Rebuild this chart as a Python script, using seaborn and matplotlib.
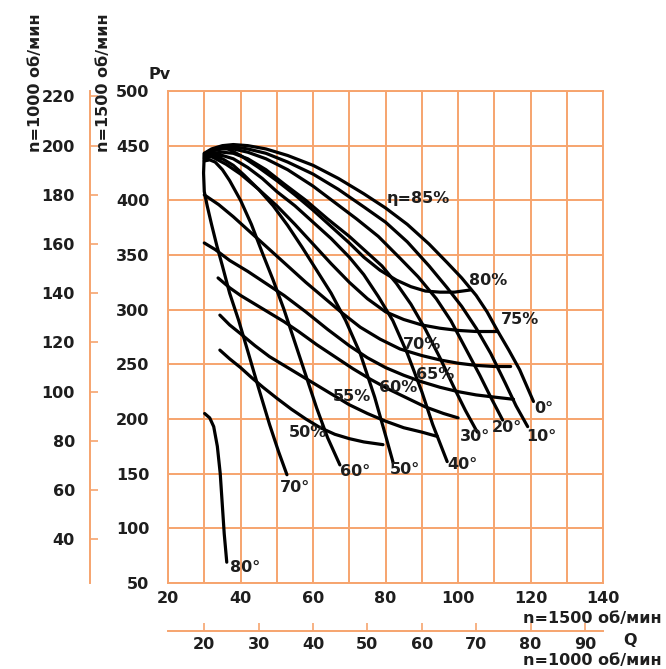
import pandas as pd
import matplotlib
matplotlib.use("Agg")
import matplotlib.pyplot as plt
import seaborn as sns

# Характеристика вентилятора: кривые по углу установки лопаток и кривые КПД
sns.set_theme(style="white")
plt.rcParams['font.family'] = ['DejaVu Sans']
plt.rcParams['font.weight'] = 'bold'

ORANGE = '#F6A46E'
INK = '#1e1e1e'
FS = 11.5

# кривые по углу (n=1500 об/мин): Q, Pv
angle_labels = ['0°', '10°', '20°', '30°', '40°', '50°', '60°', '70°', '80°']
angle_q = [
    [30, 32, 35, 38, 42, 47, 53, 60, 67, 74, 80, 86, 92, 97, 101, 105, 108, 111, 114, 117, 120.8],
    [30, 32, 35, 38, 42, 47, 53, 60, 67, 74, 80, 86, 92, 97, 101, 105, 109, 113, 116, 119.2],
    [30, 32, 35, 38, 42, 47, 53, 60, 66, 72, 78, 84, 89, 94, 98, 102, 106, 109, 112.3],
    [30, 32, 35, 38, 42, 47, 52, 58, 64, 70, 75, 79, 83, 87, 91, 95, 99, 102, 105.3],
    [30, 32, 35, 38, 42, 46, 50, 55, 60, 65, 70, 74, 78, 82, 86, 90, 93, 97],
    [30, 32, 35, 38, 41, 45, 49, 53, 57, 61, 65, 69, 73, 77, 80, 82.1],
    [30, 31.5, 33, 35, 37, 40, 43, 46, 49, 52, 55, 58, 61, 64, 67.4],
    [30, 29.8, 30, 30.8, 32, 33.5, 35, 37, 39.5, 42, 45, 48, 50.5, 52.8],
    [30.1, 31.5, 32.6, 33.6, 34.4, 35.0, 35.5, 36.2],
]
angle_pv = [
    [443, 447, 450, 451, 450, 447, 441, 432, 420, 406, 393, 378, 360, 343, 329, 313, 298, 280, 263, 245, 216],
    [442, 446, 448, 449, 447, 443, 435, 424, 410, 394, 380, 362, 340, 320, 303, 283, 260, 233, 212, 193],
    [441, 445, 447, 447, 444, 438, 428, 413, 398, 383, 367, 347, 330, 310, 290, 265, 240, 220, 199],
    [440, 443, 444, 443, 438, 428, 415, 400, 383, 367, 352, 340, 324, 305, 282, 256, 228, 208, 188],
    [439, 441, 441, 438, 430, 420, 408, 395, 380, 365, 348, 332, 312, 290, 260, 225, 195, 161],
    [438, 440, 438, 432, 423, 410, 395, 377, 357, 336, 315, 290, 260, 220, 185, 160],
    [436, 437, 435, 428, 418, 400, 378, 352, 327, 300, 270, 240, 210, 183, 158],
    [443, 425, 408, 395, 378, 358, 340, 315, 290, 262, 228, 195, 170, 149],
    [205, 201, 193, 175, 150, 120, 95, 69],
]
angle_label_q = [123.6, 123.0, 113.4, 104.6, 101.2, 85.4, 71.6, 55.0, 41.2]
angle_label_pv = [210, 183.6, 191.8, 183.6, 158, 153.4, 151.6, 137, 64]

# кривые КПД
eff_labels = ['80%', '75%', '70%', '65%', '60%', '55%', '50%']
eff_q = [
    [36, 40, 45, 50, 55, 60, 65, 70, 74, 78.5, 83, 87, 91, 95, 99, 103.4],
    [32, 36, 40, 45, 50, 55, 60, 65, 70, 75, 80, 85, 90, 95, 100, 105, 110.8],
    [30, 34, 38, 43, 48, 53, 58, 63, 68, 73, 78.5, 84, 90, 95, 100, 105, 110, 114.5],
    [30, 33, 37, 42, 47, 52, 58, 64, 70, 75, 80, 85, 90, 95, 100, 105, 110, 115.3],
    [33.8, 37, 40, 44, 48, 52, 56, 61, 66, 71, 76, 81, 86, 91, 96, 100],
    [34.3, 37, 40, 44, 48, 52, 56, 60, 65, 70, 75, 80, 85, 90, 94.3],
    [34.3, 37, 40, 43, 46.2, 50, 54, 58, 62, 66, 70, 74, 79.3],
]
eff_pv = [
    [448, 441, 430, 418, 405, 391, 376, 361, 348, 336, 327, 321, 317, 316, 316, 318],
    [440, 433, 424, 410, 395, 378, 360, 342, 325, 310, 298, 291, 286, 283, 281, 280, 280],
    [405, 396, 385, 370, 355, 340, 325, 311, 297, 284, 273, 264, 258, 254, 251, 249, 248, 248],
    [361, 355, 345, 335, 324, 313, 298, 282, 267, 256, 247, 240, 234, 229, 225, 222, 220, 218],
    [329, 320, 313, 305, 297, 289, 280, 268, 257, 246, 236, 227, 219, 211, 205, 201],
    [295, 286, 278, 267, 257, 249, 241, 233, 223, 213, 205, 198, 192, 188, 184],
    [263, 255, 247, 238, 229, 219, 209, 200, 192, 186, 182, 179, 176.5],
]
eff_label_q = [108.4, 117.2, 90.1, 93.7, 83.5, 70.8, 58.6]
eff_label_pv = [327, 290.8, 268, 240.5, 228.6, 220.4, 187.5]

pv_ticks = list(range(50, 501, 50))
q_ticks = list(range(20, 141, 20))
pv1000_ticks = list(range(40, 221, 20))
q1000_ticks = list(range(20, 91, 10))

rows = []
for name, qs, ps in zip(angle_labels, angle_q, angle_pv):
    for q, p in zip(qs, ps):
        rows.append({'curve': 'a' + name, 'Q': q, 'Pv': p})
for name, qs, ps in zip(eff_labels, eff_q, eff_pv):
    for q, p in zip(qs, ps):
        rows.append({'curve': 'e' + name, 'Q': q, 'Pv': p})
df = pd.DataFrame(rows)

fig = plt.figure(figsize=(6.66, 6.69), dpi=100)
ax = fig.add_axes([0.2523, 0.1286, 0.6532, 0.7354])

sns.lineplot(data=df, x='Q', y='Pv', units='curve', estimator=None, sort=False,
             color='black', lw=2.3, ax=ax, legend=False, zorder=3)

ax.set_xlim(20, 140)
ax.set_ylim(50, 500)
ax.set_xticks(q_ticks)
ax.set_xticks(list(range(30, 140, 20)), minor=True)
ax.set_yticks(pv_ticks)
ax.grid(True, which='both', color=ORANGE, lw=1.4)
ax.set_xlabel('')
ax.set_ylabel('')
for s in ax.spines.values():
    s.set_color(ORANGE)
    s.set_linewidth(1.4)
ax.tick_params(axis='y', length=0, pad=13.5, labelsize=FS, labelcolor=INK)
ax.tick_params(axis='x', which='both', length=0, pad=6, labelsize=FS, labelcolor=INK)

# дополнительные шкалы для n=1000 об/мин
sec_y = ax.secondary_yaxis(-0.179, functions=(lambda p: p * 4 / 9, lambda p: p * 9 / 4))
sec_y.set_yticks(pv1000_ticks)
sec_y.spines['left'].set_color(ORANGE)
sec_y.spines['left'].set_linewidth(1.4)
sec_y.tick_params(direction='in', length=6, width=1.2, color=ORANGE, pad=11,
                  labelsize=FS, labelcolor=INK)

sec_x = ax.secondary_xaxis(-0.0976, functions=(lambda q: q * 2 / 3, lambda q: q * 1.5))
sec_x.set_xticks(q1000_ticks)
sec_x.spines['bottom'].set_color(ORANGE)
sec_x.spines['bottom'].set_linewidth(1.4)
sec_x.tick_params(direction='in', length=6, width=1.2, color=ORANGE, pad=4,
                  labelsize=FS, labelcolor=INK)

for name, q, p in zip(angle_labels, angle_label_q, angle_label_pv):
    ax.text(q, p, name, ha='center', va='center', fontsize=FS, color=INK, zorder=4)
for name, q, p in zip(eff_labels, eff_label_q, eff_label_pv):
    ax.text(q, p, name, ha='center', va='center', fontsize=FS, color=INK, zorder=4)
ax.text(89.1, 402, 'η=85%', ha='center', va='center', fontsize=FS, color=INK, zorder=4)

fig.text(0.240, 0.888, 'Pv', ha='center', va='center', fontsize=FS, color=INK)
fig.text(0.0526, 0.876, 'n=1000 об/мин', rotation=90, ha='center', va='center',
         fontsize=FS, color=INK)
fig.text(0.155, 0.876, 'n=1500 об/мин', rotation=90, ha='center', va='center',
         fontsize=FS, color=INK)
fig.text(0.994, 0.0762, 'n=1500 об/мин', ha='right', va='center', fontsize=FS, color=INK)
fig.text(0.946, 0.043, 'Q', ha='center', va='center', fontsize=FS, color=INK)
fig.text(0.994, 0.012, 'n=1000 об/мин', ha='right', va='center', fontsize=FS, color=INK)

fig.savefig('out.png', dpi=100)
